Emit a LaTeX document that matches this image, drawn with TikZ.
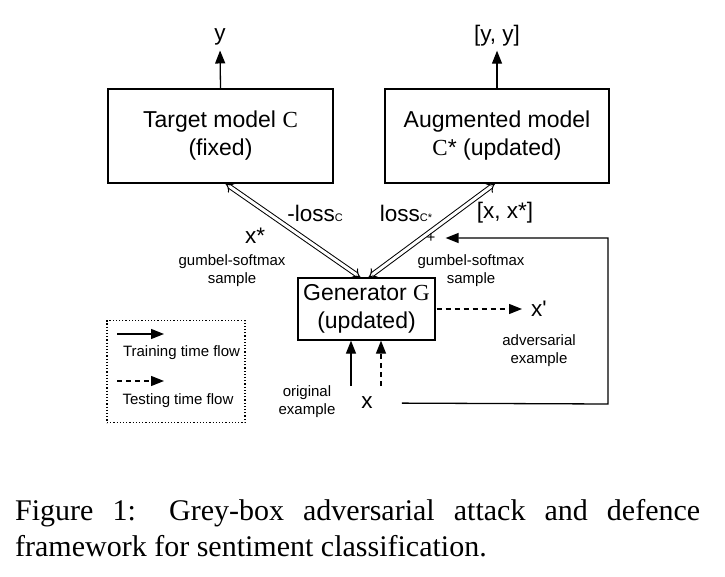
\documentclass[tikz,border=0pt]{standalone}
\usepackage{fontspec}
\setmainfont{Liberation Serif}
\setsansfont{Liberation Sans}
\usetikzlibrary{arrows.meta,calc}
\begin{document}
\begin{tikzpicture}[x=1pt,y=-1pt, font=\sffamily,
  box/.style={draw, line width=1.3pt, align=center, inner sep=0pt, font=\sffamily\fontsize{23}{28}\selectfont},
  lbl/.style={font=\sffamily\fontsize{22.5}{24}\selectfont, inner sep=1pt},
  small/.style={font=\sffamily\fontsize{15}{18}\selectfont, align=center, inner sep=0pt},
  arr/.style={line width=1.3pt, -{Triangle[length=13pt,width=10pt]}},
  darr/.style={arr, dash pattern=on 5pt off 4pt},
  dbl/.style={double, double distance=3pt, line width=1pt, {Implies}-{Implies}}
]
\useasboundingbox (0,0) rectangle (725,577);

\node[box, minimum width=225pt, minimum height=94pt] (T) at (220.5,136) {Target model {\rmfamily C}\\(fixed)};
\node[box, minimum width=224pt, minimum height=94pt] (A) at (497,136) {Augmented model\\{\rmfamily C}* (updated)};
\node[box, minimum width=137pt, minimum height=62pt] (G) at (366.5,309) {Generator {\rmfamily G}\\(updated)};

\node[lbl] (y) at (220,37) {y};
\node[lbl] (yy) at (497,36) {[y, y]};
\draw[arr, shorten >=4pt] (T.north) -- (y.south);
\draw[arr, shorten >=3pt] (A.north) -- (yy.south);

\draw[dbl] ($(T.south)+(5,0)$) -- ($(G.north)+(-6,0)$);
\draw[dbl] ($(A.south)+(-2,0)$) -- ($(G.north)+(2,0)$);

\node[lbl] (lossC) at (315,213) {-loss{\fontsize{11}{11}\selectfont C}};
\node[lbl] (lossCs) at (406,213) {loss{\fontsize{11}{11}\selectfont C*}};
\node[lbl] (xx) at (505,213) {[x, x*]};
\node[lbl] (xs) at (255,236) {x*};
\node[small] (gs1) at (232,271) {gumbel-softmax\\sample};
\node[small] (gs2) at (471,271) {gumbel-softmax\\sample};
\node[font=\sffamily\fontsize{15}{15}\selectfont, inner sep=1pt] (plus) at (431,238) {+};

\node[lbl] (x) at (367,403) {x};
\node[small] (orig) at (307,402) {original\\example};
\node[lbl] (xp) at (539,309) {x\textquotesingle};
\node[small] (adv) at (539,351) {adversarial\\example};

\coordinate (c1) at (608,404);
\draw[arr, shorten <=28pt, shorten >=9pt] (x.east) -- (c1) |- (plus.east);

\coordinate (s1) at (351,386);
\coordinate (s2) at (381,386);
\draw[arr] (s1) -- (s1 |- G.south);
\draw[darr] (s2) -- (s2 |- G.south);
\draw[darr, shorten <=1pt, shorten >=8pt] (G.east) -- (xp.west);

\node[draw, dotted, line width=1.2pt, minimum width=138pt, minimum height=102pt, inner sep=0pt] (leg) at (176,371.5) {};
\coordinate (l1) at (117,334);
\coordinate (l2) at (164,334);
\coordinate (l3) at (117,381);
\coordinate (l4) at (164,381);
\draw[arr] (l1) -- (l2);
\draw[darr] (l3) -- (l4);
\node[small] (tr) at (181.5,353) {Training time flow};
\node[small] (te) at (178,401) {Testing time flow};

\node[anchor=north west, text width=685pt, align=justify, inner sep=0pt, font=\rmfamily\fontsize{30}{36}\selectfont] (cap) at (15,499)
 {Figure 1: Grey-box adversarial attack and defence\linebreak framework for sentiment classification.};
\end{tikzpicture}
\end{document}
